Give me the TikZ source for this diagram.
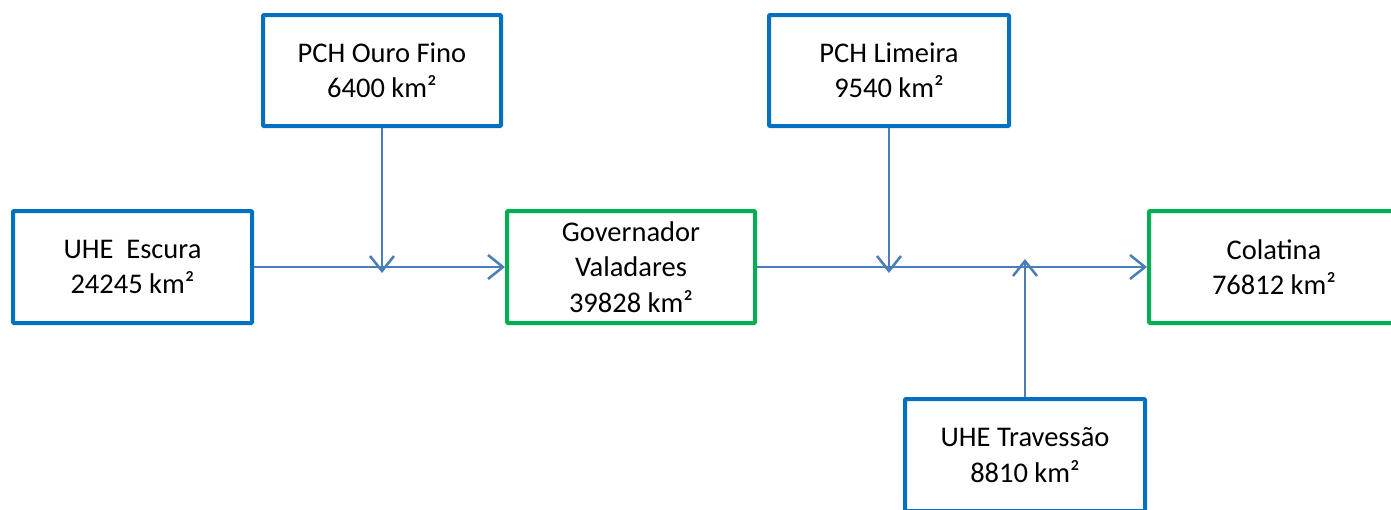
\documentclass[tikz,border=0pt]{standalone}
\usepackage{fontspec}
\setmainfont{Carlito}
\usetikzlibrary{arrows.meta}
\definecolor{boxblue}{HTML}{0070C0}
\definecolor{boxgreen}{HTML}{00B050}
\definecolor{arrblue}{HTML}{4A7EBB}
\begin{document}
\begin{tikzpicture}[x=1pt,y=-1pt,
  box/.style={draw=boxblue, line width=4pt, fill=white, inner sep=0pt, align=center,
    font=\fontsize{28.5}{35.5}\selectfont, rounded corners=1pt},
  gbox/.style={box, draw=boxgreen},
  arr/.style={draw=arrblue, line width=2.5pt, -{Straight Barb[length=15pt,width=24pt,line width=2.5pt]}}]
\useasboundingbox (0,0) rectangle (1391,509);
\clip (0,0) rectangle (1391,509);
\fill[white] (0,0) rectangle (1391,509);
\node[box, minimum width=239pt, minimum height=112pt] (esc) at (132.5,267) {UHE~ Escura\\24245 km²};
\node[gbox, minimum width=248pt, minimum height=112pt] (gov) at (631,267) {Governador\\Valadares\\39828 km²};
\node[gbox, minimum width=250pt, minimum height=112pt] (col) at (1274,267) {Colatina\\76812 km²};
\node[box, minimum width=238pt, minimum height=111pt] (ouro) at (382,70.5) {PCH Ouro Fino\\6400 km²};
\node[box, minimum width=240pt, minimum height=111pt] (lim) at (889,70.5) {PCH Limeira\\9540 km²};
\node[box, minimum width=240pt, minimum height=112pt] (trav) at (1025,455) {UHE Travessão\\8810 km²};
\coordinate (j1) at ([yshift=-6pt]ouro.south |- esc.east);
\coordinate (j2) at ([yshift=-6pt]lim.south |- gov.east);
\coordinate (j3) at ([yshift=8pt]trav.north |- gov.east);
\draw[arr] (esc.east) -- (gov.west);
\draw[arr] (gov.east) -- (col.west);
\draw[arr] (ouro.south) -- (j1);
\draw[arr] (lim.south) -- (j2);
\draw[arr] (trav.north) -- (j3);
\end{tikzpicture}
\end{document}
